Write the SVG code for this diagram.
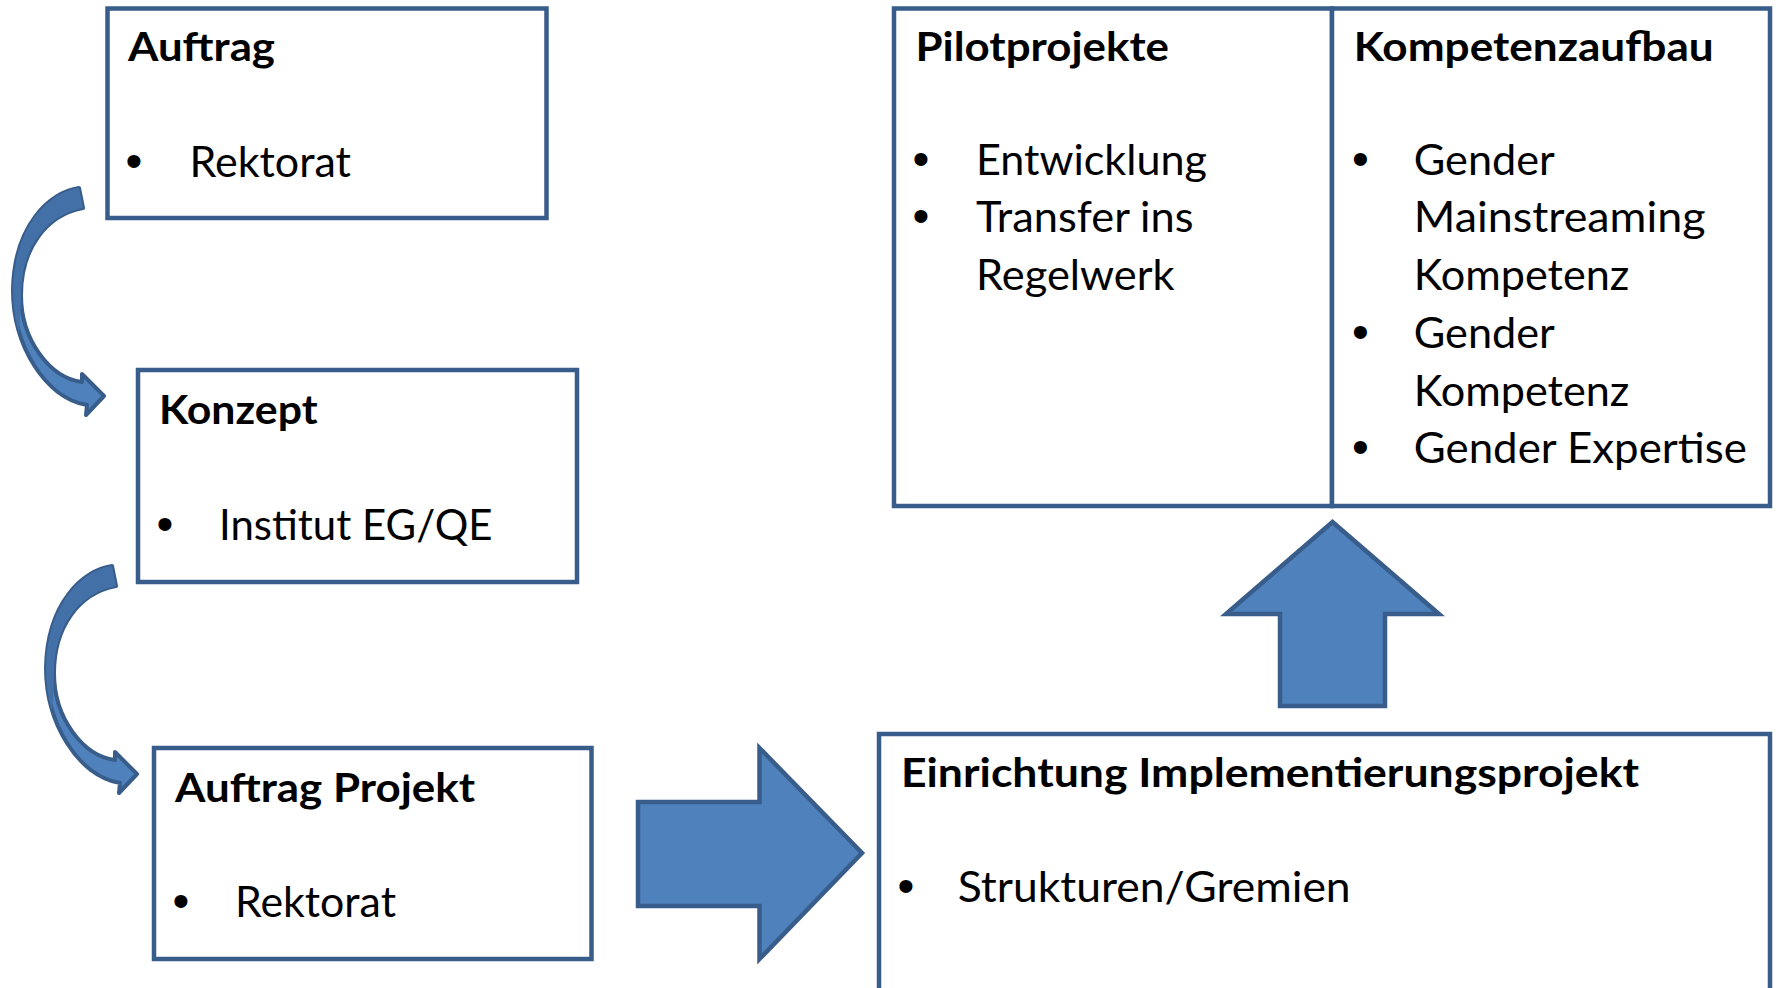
<svg xmlns="http://www.w3.org/2000/svg" width="1777" height="988" viewBox="0 0 1777 988">
<style>
.box{fill:#FFFFFF;stroke:#385D8A;stroke-width:4.5}
.arr{fill:#4F81BD;stroke:#385D8A;stroke-width:4.5;stroke-linejoin:miter}
.carr{fill:#4F81BD;stroke:#385D8A;stroke-width:4;stroke-linejoin:round}
.cdark{fill:#4470A8;stroke:none}
.t{font-family:Lato,"Liberation Sans",sans-serif;font-weight:bold;font-size:40px;fill:#000}
.b{font-family:Lato,"Liberation Sans",sans-serif;font-size:42px;fill:#000}
.dot{font-family:"Liberation Sans",sans-serif;font-size:48px;fill:#000;text-anchor:middle}
</style>
<defs>
<path id="curved" d="M 79,188 C 50,192 14,225 13,290 C 13,345 45,398 87,405 L 86,415 L 104,396 L 82,374 L 82,382 C 50,378 21,340 21,295 C 21,250 45,215 83,208 Z"/>
<path id="curvedDark" d="M 79,188 C 50,192 14,225 13,290 C 13,305 15,320 19,333 C 20,320 21,305 21,295 C 21,250 45,215 83,208 Z"/>
</defs>
<g id="connectors">
<g id="curved1">
<use href="#curved" class="carr"/>
<use href="#curvedDark" class="cdark"/>
</g>
<g id="curved2" transform="translate(33,378)">
<use href="#curved" class="carr"/>
<use href="#curvedDark" class="cdark"/>
</g>
<path id="rightArrow" class="arr" d="M 638,802 L 759.5,802 L 759.5,748 L 862,853 L 759.5,959 L 759.5,906 L 638,906 Z"/>
<path id="upArrow" class="arr" d="M 1332.5,522 L 1439,614 L 1385,614 L 1385,706 L 1280,706 L 1280,614 L 1226,614 Z"/>
</g>
<g id="auftrag">
<rect class="box" x="107.5" y="8.5" width="439" height="209.5"/>
<text class="t" x="128" y="61" textLength="147" lengthAdjust="spacingAndGlyphs">Auftrag</text>
<text class="dot" x="134" y="177">•</text>
<text class="b" x="189.5" y="177" textLength="161.5" lengthAdjust="spacingAndGlyphs">Rektorat</text>
</g>
<g id="konzept">
<rect class="box" x="138" y="370" width="439" height="212"/>
<text class="t" x="159" y="424" textLength="158.6" lengthAdjust="spacingAndGlyphs">Konzept</text>
<text class="dot" x="165" y="540">•</text>
<text class="b" x="219" y="540" textLength="273.5" lengthAdjust="spacingAndGlyphs">Institut EG/QE</text>
</g>
<g id="auftragProjekt">
<rect class="box" x="154" y="748" width="437.5" height="211"/>
<text class="t" x="175" y="802" textLength="300" lengthAdjust="spacingAndGlyphs">Auftrag Projekt</text>
<text class="dot" x="181" y="917">•</text>
<text class="b" x="235" y="917" textLength="161" lengthAdjust="spacingAndGlyphs">Rektorat</text>
</g>
<g id="einrichtung">
<rect class="box" x="879" y="734" width="891" height="270"/>
<text class="t" x="901" y="787" textLength="738" lengthAdjust="spacingAndGlyphs">Einrichtung Implementierungsprojekt</text>
<text class="dot" x="906" y="902">•</text>
<text class="b" x="957.7" y="902" textLength="393" lengthAdjust="spacingAndGlyphs">Strukturen/Gremien</text>
</g>
<g id="pilotprojekte">
<rect class="box" x="894" y="8.5" width="438" height="497.5"/>
<text class="t" x="915.5" y="61" textLength="253.5" lengthAdjust="spacingAndGlyphs">Pilotprojekte</text>
<text class="dot" x="921" y="175">•</text>
<text class="dot" x="921" y="232">•</text>
<text class="b" x="976" y="175" textLength="231" lengthAdjust="spacingAndGlyphs">Entwicklung</text>
<text class="b" x="976" y="232" textLength="217.5" lengthAdjust="spacingAndGlyphs">Transfer ins</text>
<text class="b" x="976" y="290" textLength="198.6" lengthAdjust="spacingAndGlyphs">Regelwerk</text>
</g>
<g id="kompetenzaufbau">
<rect class="box" x="1332" y="8.5" width="438" height="497.5"/>
<text class="t" x="1353.7" y="61" textLength="360" lengthAdjust="spacingAndGlyphs">Kompetenzaufbau</text>
<text class="dot" x="1360.5" y="175">•</text>
<text class="dot" x="1360.5" y="348">•</text>
<text class="dot" x="1360.5" y="463">•</text>
<text class="b" x="1413.8" y="175" textLength="141" lengthAdjust="spacingAndGlyphs">Gender</text>
<text class="b" x="1413.8" y="232" textLength="291.7" lengthAdjust="spacingAndGlyphs">Mainstreaming</text>
<text class="b" x="1413.8" y="290" textLength="215.6" lengthAdjust="spacingAndGlyphs">Kompetenz</text>
<text class="b" x="1413.8" y="348" textLength="141" lengthAdjust="spacingAndGlyphs">Gender</text>
<text class="b" x="1413.8" y="406" textLength="215.6" lengthAdjust="spacingAndGlyphs">Kompetenz</text>
<text class="b" x="1413.8" y="463" textLength="333" lengthAdjust="spacingAndGlyphs">Gender Expertise</text>
</g>
</svg>
